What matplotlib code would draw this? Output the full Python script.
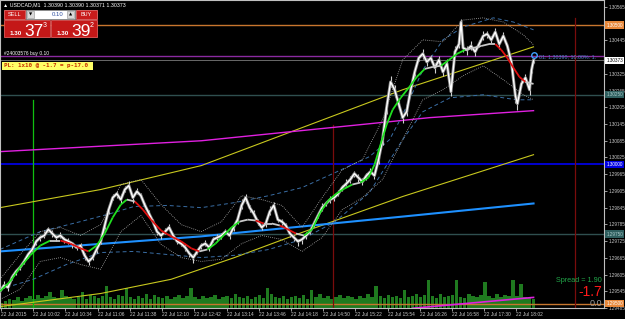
import numpy as np
import matplotlib
matplotlib.use("Agg")
import matplotlib.pyplot as plt
import matplotlib.transforms as mtransforms
from matplotlib.patches import Rectangle
from matplotlib.collections import LineCollection

### DATA (USDCAD M1, 22 Jul 2015)

symbol_line = "USDCAD,M1  1.30390 1.30390 1.30371 1.30373"

# close prices, one point every few bars
price_bar = [0, 4, 8, 12, 16, 20, 24, 28, 32, 36, 40, 44, 48, 52, 56, 60, 64, 68, 72, 76,
             80, 84, 88, 92, 96, 100, 104, 108, 112, 116, 120, 124, 128, 132, 136, 140, 144, 148, 152, 156,
             160, 164, 168, 172, 176, 180, 184, 188, 192, 196, 200, 204, 208, 212, 216, 220, 224, 228, 232, 236,
             240, 244, 248, 252, 256, 260, 264, 268, 272, 276, 280, 284, 288, 292, 296, 300, 304, 308, 312, 316,
             320, 324, 328, 332, 336, 340, 344, 348, 352, 356, 360, 364, 368, 372, 376, 380, 384, 388, 392, 396,
             400, 404, 408, 412, 416, 420, 424, 428, 432, 436, 440, 444, 448, 452, 456, 458, 460, 464, 468, 472,
             476, 480, 484, 488, 492, 496, 500, 504, 508, 512, 514, 518, 522, 526, 528, 530]
price_close = [1.29545, 1.29566, 1.29559, 1.29595, 1.29616, 1.29631, 1.29652, 1.29677, 1.29695, 1.29724,
               1.29738, 1.29745, 1.29767, 1.29752, 1.29738, 1.29745, 1.29731, 1.29724, 1.29716, 1.29702,
               1.29709, 1.29674, 1.29652, 1.29666, 1.29695, 1.29724, 1.29781, 1.29838, 1.29881, 1.29895,
               1.29874, 1.29910, 1.29924, 1.29881, 1.29903, 1.29888, 1.29853, 1.29824, 1.29795, 1.29759,
               1.29745, 1.29759, 1.29774, 1.29745, 1.29724, 1.29716, 1.29702, 1.29681, 1.29666, 1.29688,
               1.29709, 1.29716, 1.29702, 1.29731, 1.29738, 1.29745, 1.29759, 1.29745, 1.29774, 1.29802,
               1.29853, 1.29881, 1.29845, 1.29824, 1.29795, 1.29774, 1.29788, 1.29831, 1.29853, 1.29802,
               1.29795, 1.29781, 1.29752, 1.29738, 1.29724, 1.29731, 1.29745, 1.29759, 1.29788, 1.29817,
               1.29845, 1.29860, 1.29874, 1.29881, 1.29895, 1.29917, 1.29931, 1.29946, 1.29967, 1.29953,
               1.29938, 1.29960, 1.29974, 1.29960, 1.30017, 1.30089, 1.30203, 1.30296, 1.30268, 1.30218,
               1.30168, 1.30189, 1.30268, 1.30332, 1.30382, 1.30397, 1.30368, 1.30382, 1.30347, 1.30375,
               1.30332, 1.30361, 1.30261, 1.30404, 1.30432, 1.30511, 1.30418, 1.30411, 1.30425, 1.30404,
               1.30432, 1.30461, 1.30468, 1.30447, 1.30475, 1.30432, 1.30461, 1.30425, 1.30368, 1.30246,
               1.30218, 1.30289, 1.30311, 1.30268, 1.30339, 1.30373]
# candle wicks above / below the close, in pips
high_pips = [1.0, 1.5, 0.8, 1.2, 1.0, 0.6, 1.4, 0.9, 1.2, 0.8,
             1.0, 1.6, 0.7, 1.2, 0.9, 1.3, 0.8, 1.1, 0.6, 1.0,
             0.9, 0.7, 1.2, 1.0, 1.4, 1.1, 1.6, 1.8, 1.2, 1.0,
             2.0, 1.2, 1.5, 0.8, 1.4, 1.0, 0.9, 1.3, 0.8, 1.1,
             1.0, 1.4, 1.2, 0.8, 1.0, 0.7, 1.1, 0.9, 1.2, 1.0,
             0.8, 1.2, 0.9, 1.0, 1.3, 0.9, 1.1, 0.8, 1.2, 1.6,
             2.2, 1.4, 1.0, 1.2, 0.8, 1.1, 1.0, 2.0, 1.4, 0.9,
             1.0, 0.8, 1.1, 0.9, 0.7, 1.0, 1.2, 0.9, 1.1, 1.3,
             1.5, 1.0, 1.2, 0.9, 1.4, 1.1, 1.6, 1.2, 1.0, 1.4,
             1.2, 1.0, 1.5, 1.1, 2.0, 2.5, 3.0, 2.2, 1.8, 1.2,
             1.0, 1.5, 2.0, 1.8, 1.2, 1.6, 1.4, 1.2, 1.8, 1.5,
             1.2, 1.6, 1.0, 2.0, 2.5, 1.0, 1.5, 1.4, 1.8, 1.2,
             1.5, 1.8, 1.2, 1.4, 1.6, 1.0, 1.4, 1.2, 1.0, 0.8,
             1.0, 1.4, 1.2, 1.5, 1.6, 0.8]
low_pips = [0.8, 1.0, 1.4, 0.9, 1.2, 1.0, 0.8, 1.3, 1.0, 1.2,
            1.4, 0.9, 1.0, 1.3, 1.1, 0.8, 1.2, 1.0, 1.4, 0.9,
            1.2, 1.6, 1.4, 1.0, 1.2, 0.9, 1.2, 1.4, 1.0, 1.6,
            1.2, 1.0, 1.4, 1.8, 1.0, 1.2, 1.4, 1.0, 1.2, 1.3,
            1.2, 1.0, 0.9, 1.3, 1.1, 1.0, 1.4, 1.2, 1.8, 1.0,
            1.1, 0.9, 1.3, 1.0, 0.8, 1.2, 1.0, 1.3, 1.1, 1.4,
            1.2, 1.8, 1.5, 1.2, 1.4, 1.0, 1.2, 1.1, 1.6, 1.0,
            1.2, 1.0, 1.4, 1.2, 1.6, 1.8, 1.2, 1.0, 1.1, 0.9,
            1.2, 1.0, 1.4, 1.1, 0.9, 1.3, 1.0, 1.2, 1.1, 1.5,
            1.3, 1.4, 1.0, 1.2, 1.5, 2.0, 2.2, 1.8, 2.5, 2.0,
            2.0, 1.5, 1.6, 1.4, 1.2, 1.8, 1.6, 1.4, 1.8, 1.5,
            1.6, 2.0, 1.4, 2.0, 1.4, 1.2, 1.6, 1.8, 1.4, 1.5,
            1.2, 1.4, 1.6, 1.2, 1.4, 1.8, 1.2, 1.6, 2.0, 2.5,
            2.2, 1.6, 1.5, 2.0, 1.2, 1.0]

# smoothed moving average (coloured by direction)
ma_bar = [0, 10, 20, 30, 40, 50, 60, 70, 80, 88, 96, 104, 112, 120, 126, 134, 142, 150, 160, 170,
          180, 190, 198, 206, 214, 222, 230, 238, 246, 254, 262, 270, 278, 286, 294, 302, 310, 318, 326, 334,
          342, 350, 358, 366, 372, 378, 384, 390, 398, 406, 414, 422, 430, 438, 446, 454, 462, 470, 478, 486,
          492, 498, 504, 510, 516, 522, 530]
ma_value = [1.29545, 1.29580, 1.29631, 1.29674, 1.29709, 1.29727, 1.29727, 1.29716, 1.29699, 1.29688,
            1.29709, 1.29752, 1.29810, 1.29856, 1.29874, 1.29867, 1.29838, 1.29802, 1.29763, 1.29742,
            1.29724, 1.29699, 1.29688, 1.29695, 1.29716, 1.29745, 1.29774, 1.29795, 1.29802, 1.29799,
            1.29788, 1.29788, 1.29781, 1.29767, 1.29752, 1.29745, 1.29767, 1.29827, 1.29870, 1.29895,
            1.29913, 1.29928, 1.29935, 1.29953, 1.29999, 1.30071, 1.30142, 1.30196, 1.30239, 1.30275,
            1.30314, 1.30343, 1.30350, 1.30354, 1.30375, 1.30397, 1.30411, 1.30418, 1.30425, 1.30432,
            1.30432, 1.30411, 1.30382, 1.30347, 1.30314, 1.30296, 1.30289]

# inner (dotted) envelope
band_bar = [0, 20, 40, 60, 80, 100, 120, 140, 160, 180, 200, 220, 240, 260, 280, 300, 320, 340, 360, 380,
            400, 420, 440, 460, 480, 500, 520, 530]
band_upper = [1.29588, 1.29677, 1.29759, 1.29774, 1.29745, 1.29784, 1.29928, 1.29946, 1.29856, 1.29784,
              1.29759, 1.29795, 1.29888, 1.29874, 1.29853, 1.29774, 1.29881, 1.29981, 1.30017, 1.30161,
              1.30375, 1.30447, 1.30440, 1.30518, 1.30526, 1.30511, 1.30465, 1.30429]
band_lower = [1.29516, 1.29552, 1.29652, 1.29666, 1.29641, 1.29624, 1.29759, 1.29817, 1.29713, 1.29666,
              1.29652, 1.29660, 1.29716, 1.29745, 1.29731, 1.29688, 1.29738, 1.29838, 1.29881, 1.29946,
              1.30089, 1.30232, 1.30268, 1.30318, 1.30354, 1.30304, 1.30250, 1.30232]

# outer (dashed) envelope
outer_up_bar = [0, 40, 80, 110, 133, 166, 200, 233, 267, 300, 333, 367, 387, 400, 420, 440, 460, 490, 510, 530]
outer_upper = [1.29695, 1.29759, 1.29795, 1.29824, 1.29849, 1.29853, 1.29845, 1.29863, 1.29888, 1.29917,
               1.29971, 1.30028, 1.30089, 1.30178, 1.30339, 1.30447, 1.30493, 1.30526, 1.30511, 1.30483]
outer_lo_bar = [0, 33, 66, 100, 133, 166, 200, 233, 267, 300, 333, 367, 400, 420, 447, 480, 513, 530]
outer_lower = [1.29552, 1.29588, 1.29641, 1.29684, 1.29688, 1.29677, 1.29666, 1.29674, 1.29695, 1.29731,
               1.29795, 1.29899, 1.30089, 1.30189, 1.30239, 1.30250, 1.30232, 1.30232]

# regression style channel lines
chan_up_bar = [0, 100, 200, 300, 400, 530]
chan_upper = [1.29845, 1.29910, 1.29996, 1.30132, 1.30268, 1.30422]
chan_lo_bar = [0, 100, 170, 233, 300, 400, 530]
chan_lower = [1.29490, 1.29537, 1.29588, 1.29666, 1.29756, 1.29885, 1.30035]
magenta_bar = [0, 200, 427, 530]
magenta_val = [1.30046, 1.30085, 1.30168, 1.30193]
trend_bar = [0, 200, 400, 530]
trend_val = [1.29688, 1.29742, 1.29813, 1.29860]
sub_magenta_bar = [410, 530]
sub_magenta_val = [1.29484, 1.29523]

# horizontal levels
level_price = [1.30500, 1.30250, 1.30000, 1.29750, 1.29500]
level_color = ["#c8762e", "#2f4f4f", "#0000e0", "#2f4f4f", "#c8762e"]
order_price = 1.30390
bid_price = 1.30373

# tick volume, every 4 bars
volume = [5, 7, 9, 8, 11, 7, 10, 12,
          9, 13, 10, 12, 16, 11, 10, 18,
          12, 10, 9, 11, 16, 9, 13, 12,
          10, 12, 22, 11, 9, 13, 12, 20,
          11, 9, 12, 10, 14, 9, 13, 11,
          10, 12, 9, 11, 13, 10, 12, 20,
          11, 9, 12, 10, 11, 13, 9, 11,
          12, 10, 14, 11, 10, 12, 9, 11,
          13, 10, 20, 14, 11, 10, 12, 9,
          11, 12, 10, 13, 9, 18, 11, 14,
          10, 12, 9, 11, 13, 10, 12, 11,
          9, 12, 10, 14, 11, 22, 12, 10,
          13, 11, 12, 10, 18, 11, 12, 14,
          11, 13, 28, 12, 10, 14, 11, 12,
          13, 28, 11, 10, 14, 12, 11, 13,
          26, 12, 10, 14, 11, 13, 12, 28,
          12, 24, 11, 10, 9]

# time axis
time_labels = ["22 Jul 2015", "22 Jul 10:02", "22 Jul 10:34", "22 Jul 11:06", "22 Jul 11:38",
               "22 Jul 12:10", "22 Jul 12:42", "22 Jul 13:14", "22 Jul 13:46", "22 Jul 14:18",
               "22 Jul 14:50", "22 Jul 15:22", "22 Jul 15:54", "22 Jul 16:26", "22 Jul 16:58",
               "22 Jul 17:30", "22 Jul 18:02"]
time_minutes = ["09:30", "10:02", "10:34", "11:06", "11:38", "12:10", "12:42", "13:14", "13:46",
                "14:18", "14:50", "15:22", "15:54", "16:26", "16:58", "17:30", "18:02"]
first_bar_time = "09:29"
vline_times = ["10:02", "15:00", "19:00"]
vline_colors = ["#10c010", "#7a0c0c", "#7a0c0c"]
vline_top = [1.30232, 1.30140, 1.30526]

price_ticks = [1.30565, 1.30505, 1.30445, 1.30385, 1.30325, 1.30265, 1.30205, 1.30145, 1.30085,
               1.30025, 1.29965, 1.29905, 1.29845, 1.29785, 1.29725, 1.29665, 1.29605, 1.29545, 1.29485]

### END DATA

def to_bar(t):
    h, m = t.split(":")
    h0, m0 = first_bar_time.split(":")
    return (int(h) * 60 + int(m)) - (int(h0) * 60 + int(m0))

plt.rcParams['font.family'] = ['Liberation Sans', 'DejaVu Sans']

W, H = 625, 319
fig = plt.figure(figsize=(W / 100, H / 100), dpi=100, facecolor="black")
rect = [0, 11 / H, 604 / W, 308 / H]

# volume window underneath
vax = fig.add_axes(rect)
vax.set_facecolor("black")
vax.set_xlim(0, 600)
vax.set_ylim(0, 308)
vax.bar(np.arange(0, 529, 4), volume, width=3.4, align="edge", color="#1f7a1f", linewidth=0)
vax.axis("off")

ax = fig.add_axes(rect)
ax.set_facecolor("none")
ax.set_xlim(0, 600)
ax.set_ylim(1.29488, 1.30590)

# horizontal levels
for p, c in zip(level_price, level_color):
    ax.axhline(p, color=c, lw=1.3 if c == "#0000e0" else 1.0, zorder=1)
ax.axhline(order_price, color="#8a2aa0", lw=1.0, zorder=1)
ax.axhline(bid_price, color="#7a7a7a", lw=0.6, zorder=1)

# vertical session lines
for t, c, top in zip(vline_times, vline_colors, vline_top):
    b = to_bar(t)
    ax.plot([b, b], [1.29488, top], color=c, lw=0.9, zorder=1)

# channels
ax.plot(chan_up_bar, chan_upper, color="#c8c81e", lw=0.8, zorder=2)
ax.plot(chan_lo_bar, chan_lower, color="#c8c81e", lw=0.8, zorder=2)
ax.plot(magenta_bar, magenta_val, color="#e020e0", lw=1.0, zorder=2)
ax.plot(sub_magenta_bar, sub_magenta_val, color="#e020e0", lw=1.2, zorder=2)
ax.plot(trend_bar, trend_val, color="#1e90ff", lw=1.5, zorder=2)

# envelopes
ax.plot(outer_up_bar, outer_upper, color="#3a6ea5", lw=0.7, ls=(0, (4, 3)), zorder=2)
ax.plot(outer_lo_bar, outer_lower, color="#3a6ea5", lw=0.7, ls=(0, (4, 3)), zorder=2)
ax.plot(band_bar, band_upper, color="#b0b0b0", lw=0.6, ls=(0, (1, 1.5)), zorder=2)
ax.plot(band_bar, band_lower, color="#b0b0b0", lw=0.6, ls=(0, (1, 1.5)), zorder=2)

# price with candle wicks
close = np.array(price_close)
hi = close + np.array(high_pips) * 0.0001
lo = close - np.array(low_pips) * 0.0001
ax.vlines(price_bar, lo, hi, color="#d0d0d0", lw=0.8, zorder=3)
ax.plot(price_bar, price_close, color="#8a8a8a", lw=2.2, zorder=3)
ax.plot(price_bar, price_close, color="white", lw=1.0, zorder=4)

# coloured MA
pts = np.column_stack([ma_bar, ma_value])
segs = np.stack([pts[:-1], pts[1:]], axis=1)
slope = np.diff(ma_value) / np.diff(ma_bar)
cols = ["#20e020" if s > 1e-5 else ("#e01010" if s < -1e-5 else "#c8c8c8") for s in slope]
ax.add_collection(LineCollection(segs, colors=cols, linewidths=1.3, zorder=5))

ax.plot([price_bar[-1]], [order_price + 0.00004], marker="o", ms=4, mfc="none", mec="#40a0ff",
        mew=1.0, zorder=6)

# axes styling; labels hidden where a level box sits on top of them
box_prices = level_price + [bid_price]
ax.yaxis.tick_right()
ax.set_yticks(price_ticks)
ax.set_yticklabels(["" if min(abs(p - b) for b in box_prices) < 0.00013 else f"{p:.5f}"
                    for p in price_ticks])
ax.set_xticks([to_bar(t) for t in time_minutes])
ax.set_xticklabels(time_labels)
for lab in ax.get_xticklabels():
    lab.set_horizontalalignment("left")
ax.tick_params(axis="x", colors="#b8b8b8", labelsize=3.5, length=2, width=0.6, pad=1.2,
               labelcolor="#c8c8c8")
ax.tick_params(axis="y", colors="#b8b8b8", labelsize=3.3, length=2, width=0.6, pad=1.2,
               labelcolor="#c8c8c8")
for s in ax.spines.values():
    s.set_color("#c0c0c0")
    s.set_linewidth(0.8)

# price labels on the axis
trans = mtransforms.blended_transform_factory(ax.transAxes, ax.transData)
box_fc = ["#e8883a", "#2f5f5f", "#0000e0", "#2f5f5f", "#e8883a"]
box_tc = ["white", "#a8c8c8", "white", "#a8c8c8", "white"]
for p, fc, tc in zip(level_price, box_fc, box_tc):
    ax.text(1.004, p, f"{p:.5f}", transform=trans, fontsize=3.3, color=tc, va="center", ha="left",
            bbox=dict(boxstyle="square,pad=0.25", fc=fc, ec="none"), clip_on=False, zorder=10)
ax.text(1.004, bid_price, f"{bid_price:.5f}", transform=trans, fontsize=3.3, color="black", va="center",
        ha="left", bbox=dict(boxstyle="square,pad=0.25", fc="white", ec="none"), clip_on=False, zorder=10)
ax.text(535, order_price - 0.00004, "01: 1.30390, 10.00%: 1.", fontsize=3.8, color="#4a86c8",
        va="center", ha="left", zorder=7, clip_on=True)

# overlay in pixel coordinates for the trade panel and labels
ov = fig.add_axes([0, 0, 1, 1])
ov.set_xlim(0, W)
ov.set_ylim(H, 0)
ov.axis("off")

ov.text(3, 5, "\u25b2 " + symbol_line, fontsize=3.8, color="white", va="center", ha="left",
        family=["Liberation Sans", "DejaVu Sans"])

red = "#c81c1c"
ov.add_patch(Rectangle((4, 10), 21, 9, fc=red, ec="#e86a6a", lw=0.6))
ov.text(14.5, 14.8, "SELL", fontsize=4, color="white", ha="center", va="center")
ov.add_patch(Rectangle((26, 10), 49, 9, fc="white", ec="#909090", lw=0.6))
ov.add_patch(Rectangle((27, 11), 7, 7, fc="#d8d8d8", ec="#909090", lw=0.4))
ov.add_patch(Rectangle((67, 11), 7, 7, fc="#d8d8d8", ec="#909090", lw=0.4))
ov.text(30.5, 14.8, "\u25bc", fontsize=3, color="black", ha="center", va="center", family="DejaVu Sans")
ov.text(70.5, 14.8, "\u25b2", fontsize=3, color="black", ha="center", va="center", family="DejaVu Sans")
ov.text(64, 14.8, "0.10", fontsize=4.3, color="#3050a0", ha="right", va="center")
ov.add_patch(Rectangle((76, 10), 21, 9, fc=red, ec="#e86a6a", lw=0.6))
ov.text(86.5, 14.8, "BUY", fontsize=4, color="white", ha="center", va="center")

for x0, big, sup in [(4, "37", "3"), (51, "39", "2")]:
    ov.add_patch(Rectangle((x0, 20), 46, 17, fc="#c41818", ec="#e05a5a", lw=0.6))
    ov.text(x0 + 6, 35, "1.30", fontsize=4.5, color="white", ha="left", va="baseline", weight="bold")
    ov.text(x0 + 20, 35.5, big, fontsize=12.5, color="white", ha="left", va="baseline")
    ov.text(x0 + 39, 27, sup, fontsize=5, color="white", ha="left", va="baseline")

ov.text(4, 53, "#24003576 buy 0.10", fontsize=3.5, color="white", ha="left", va="center")
ov.add_patch(Rectangle((2, 62), 91, 7.5, fc="#ffff66", ec="none"))
ov.text(3.5, 65.8, "PL: 1x10 @ -1.7 = p-17.0", fontsize=4.2, color="#c83000", ha="left", va="center",
        family="DejaVu Sans Mono", weight="bold")

ov.text(602, 280, "Spread = 1.90", fontsize=5.2, color="#22a84a", ha="right", va="center")
ov.text(602, 292, "-1.7", fontsize=10, color="#ff1a1a", ha="right", va="center")
ov.text(602, 303.5, "0.0", fontsize=6.5, color="#a0a0a0", ha="right", va="center")

fig.savefig("out.png", dpi=100, facecolor="black")
